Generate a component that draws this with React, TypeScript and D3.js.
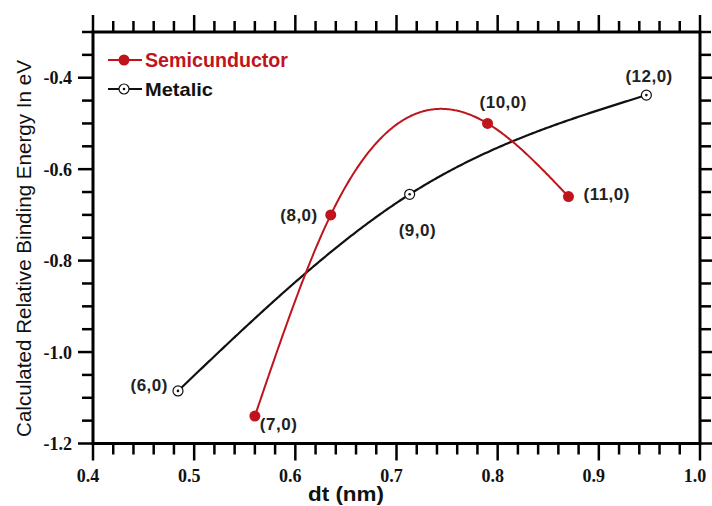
import React from 'react';
import * as d3 from 'd3';

// ---- data ----
const seriesNames = ['Semicunductor', 'Metalic'];
const semiLabels = ['(7,0)', '(8,0)', '(10,0)', '(11,0)'];
const semiX = [0.56, 0.635, 0.79, 0.87];
const semiY = [-1.14, -0.7, -0.5, -0.66];
const metLabels = ['(6,0)', '(9,0)', '(12,0)'];
const metX = [0.484, 0.713, 0.947];
const metY = [-1.085, -0.655, -0.438];
const xTicks = [0.4, 0.5, 0.6, 0.7, 0.8, 0.9, 1.0];
const yTicks = [-0.4, -0.6, -0.8, -1.0, -1.2];
const xTitle = 'dt (nm)';
const yTitle = 'Calculated Relative Binding Energy In eV';

// natural cubic spline y(x)
function naturalSpline(xs: number[], ys: number[]) {
  const n = xs.length;
  const h: number[] = [];
  for (let i = 0; i < n - 1; i++) h.push(xs[i + 1] - xs[i]);
  const M = new Array(n).fill(0);
  const a: number[] = [], b: number[] = [], c: number[] = [], d: number[] = [];
  for (let i = 1; i < n - 1; i++) {
    a.push(h[i - 1]);
    b.push(2 * (h[i - 1] + h[i]));
    c.push(h[i]);
    d.push(6 * ((ys[i + 1] - ys[i]) / h[i] - (ys[i] - ys[i - 1]) / h[i - 1]));
  }
  const m = b.length;
  for (let i = 1; i < m; i++) {
    const w = a[i] / b[i - 1];
    b[i] -= w * c[i - 1];
    d[i] -= w * d[i - 1];
  }
  const sol = new Array(m).fill(0);
  for (let i = m - 1; i >= 0; i--) sol[i] = (d[i] - (i < m - 1 ? c[i] * sol[i + 1] : 0)) / b[i];
  for (let i = 0; i < m; i++) M[i + 1] = sol[i];
  return (x: number) => {
    let k = 0;
    while (k < n - 2 && x > xs[k + 1]) k++;
    const hk = h[k];
    const A = xs[k + 1] - x;
    const B = x - xs[k];
    return (
      (M[k] * A * A * A) / (6 * hk) +
      (M[k + 1] * B * B * B) / (6 * hk) +
      (ys[k] / hk - (M[k] * hk) / 6) * A +
      (ys[k + 1] / hk - (M[k + 1] * hk) / 6) * B
    );
  };
}

function sampleCurve(xs: number[], ys: number[]): [number, number][] {
  const f = naturalSpline(xs, ys);
  const x0 = xs[0], x1 = xs[xs.length - 1];
  const N = 300;
  return d3.range(N + 1).map((i) => {
    const x = x0 + ((x1 - x0) * i) / N;
    return [x, f(x)] as [number, number];
  });
}

const RED = '#c0141c';

export default function App() {
  const W = 712, H = 506;
  const left = 93, right = 700, top = 32, bottom = 443.5;
  const x = d3.scaleLinear().domain([0.4, 1.0]).range([left, right]);
  const y = d3.scaleLinear().domain([-0.3, -1.2]).range([top, bottom]);

  const line = d3
    .line<[number, number]>()
    .x((d) => x(d[0]))
    .y((d) => y(d[1]));

  const xMinor = d3.range(0, 31).map((i) => 0.4 + i * 0.02);
  const yMinor = d3.range(0, 19).map((i) => -1.2 + i * 0.05);
  const isXMajor = (v: number) => Math.abs(v * 10 - Math.round(v * 10)) < 1e-6;
  const isYMajor = (v: number) => Math.abs(v * 5 - Math.round(v * 5)) < 1e-6 && v < -0.31;

  const semiOff = [
    { dx: 5, dy: 13.5, anchor: 'start' },
    { dx: -13, dy: 6, anchor: 'end' },
    { dx: -8, dy: -15, anchor: 'start' },
    { dx: 15, dy: 3.5, anchor: 'start' },
  ];
  const metOff = [
    { dx: -10, dy: 0.5, anchor: 'end' },
    { dx: -11, dy: 42, anchor: 'start' },
    { dx: -21, dy: -13.5, anchor: 'start' },
  ];

  const labelFont = { fontFamily: 'Arial, "Liberation Sans", sans-serif', fontWeight: 700, fontSize: 17, letterSpacing: 0.5 } as const;
  const tickFont = { fontFamily: '"Liberation Serif", "Times New Roman", serif', fontWeight: 700, fontSize: 18 } as const;

  const MetMarker = ({ cx, cy }: { cx: number; cy: number }) => (
    <g>
      <circle cx={cx} cy={cy} r={5} fill="#fff" stroke="#111" strokeWidth={1.2} />
      <circle cx={cx} cy={cy} r={1.3} fill="#111" />
    </g>
  );

  return (
    <svg width={W} height={H} style={{ position: 'absolute', left: 0, top: 0, background: '#fff' }}>
      <rect x={0} y={0} width={W} height={H} fill="#fff" />
      {/* curves */}
      <path d={line(sampleCurve(metX, metY)) || ''} fill="none" stroke="#111" strokeWidth={2.2} />
      <path d={line(sampleCurve(semiX, semiY)) || ''} fill="none" stroke={RED} strokeWidth={2} />

      {/* markers */}
      {semiX.map((v, i) => (
        <circle key={'s' + i} cx={x(v)} cy={y(semiY[i])} r={5.5} fill={RED} />
      ))}
      {metX.map((v, i) => (
        <MetMarker key={'m' + i} cx={x(v)} cy={y(metY[i])} />
      ))}

      {/* point labels */}
      {semiLabels.map((t, i) => (
        <text key={'sl' + i} x={x(semiX[i]) + semiOff[i].dx} y={y(semiY[i]) + semiOff[i].dy} textAnchor={semiOff[i].anchor as any} fill="#222" style={labelFont}>
          {t}
        </text>
      ))}
      {metLabels.map((t, i) => (
        <text key={'ml' + i} x={x(metX[i]) + metOff[i].dx} y={y(metY[i]) + metOff[i].dy} textAnchor={metOff[i].anchor as any} fill="#222" style={labelFont}>
          {t}
        </text>
      ))}

      {/* frame */}
      <rect x={left} y={top} width={right - left} height={bottom - top} fill="none" stroke="#000" strokeWidth={3} />

      {/* x ticks bottom & top */}
      {xMinor.map((v, i) => {
        const maj = isXMajor(v);
        const L = maj ? 17 : 11;
        return (
          <g key={'xt' + i}>
            <line x1={x(v)} x2={x(v)} y1={bottom} y2={bottom + L} stroke="#000" strokeWidth={2.5} />
            <line x1={x(v)} x2={x(v)} y1={top} y2={top - L} stroke="#000" strokeWidth={2.5} />
          </g>
        );
      })}
      {/* y ticks left & right */}
      {yMinor.map((v, i) => {
        const maj = isYMajor(v);
        const L = maj ? 15 : 11;
        return (
          <g key={'yt' + i}>
            <line x1={left} x2={left - L} y1={y(v)} y2={y(v)} stroke="#000" strokeWidth={2.5} />
            <line x1={right} x2={right + L} y1={y(v)} y2={y(v)} stroke="#000" strokeWidth={2.5} />
          </g>
        );
      })}

      {/* tick labels */}
      {xTicks.map((v) => (
        <text key={'xl' + v} x={x(v) - 5} y={482} textAnchor="middle" fill="#111" style={tickFont}>
          {v.toFixed(1)}
        </text>
      ))}
      {yTicks.map((v) => (
        <text key={'yl' + v} x={72} y={y(v) + 6.5} textAnchor="end" fill="#111" style={tickFont}>
          {v.toFixed(1)}
        </text>
      ))}

      {/* axis titles */}
      <text x={308} y={501} textLength={76} lengthAdjust="spacingAndGlyphs" fill="#111" style={{ fontFamily: 'Arial, "Liberation Sans", sans-serif', fontWeight: 700, fontSize: 20 }}>
        {xTitle}
      </text>
      <text
        transform={`translate(31, 248.5) rotate(-90)`}
        textAnchor="middle"
        textLength={377}
        lengthAdjust="spacingAndGlyphs"
        fill="#111"
        style={{ fontFamily: 'Arial, "Liberation Sans", sans-serif', fontWeight: 400, fontSize: 20 }}
      >
        {yTitle}
      </text>

      {/* legend */}
      <line x1={108} x2={142} y1={60} y2={60} stroke={RED} strokeWidth={2} />
      <circle cx={124} cy={60} r={5.5} fill={RED} />
      <text x={145} y={67} textLength={143} lengthAdjust="spacingAndGlyphs" fill={RED} style={{ fontFamily: 'Arial, "Liberation Sans", sans-serif', fontWeight: 700, fontSize: 19.5 }}>
        {seriesNames[0]}
      </text>
      <line x1={108} x2={142} y1={89} y2={89} stroke="#111" strokeWidth={2.2} />
      <MetMarker cx={124} cy={89} />
      <text x={145} y={95.5} textLength={68} lengthAdjust="spacingAndGlyphs" fill="#111" style={{ fontFamily: 'Arial, "Liberation Sans", sans-serif', fontWeight: 700, fontSize: 19 }}>
        {seriesNames[1]}
      </text>
    </svg>
  );
}
